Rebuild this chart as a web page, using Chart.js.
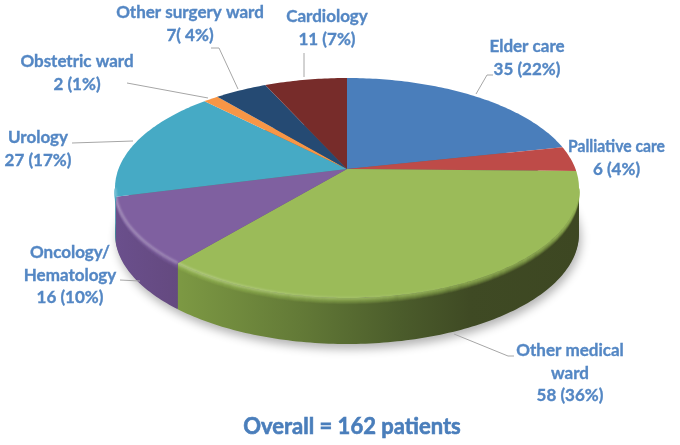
<!DOCTYPE html>
<html>
<head>
<meta charset="utf-8">
<style>
  html, body { margin: 0; padding: 0; background: #fff; }
  #wrap { position: relative; width: 680px; height: 445px; }
  canvas { display: block; }
</style>
<script src="https://cdn.jsdelivr.net/npm/chart.js@4"></script>
</head>
<body>
<div id="wrap"><canvas id="pie"></canvas></div>
<script>
const wards = ['Elder care', 'Palliative care', 'Other medical ward', 'Oncology/Hematology', 'Urology', 'Obstetric ward', 'Other surgery ward', 'Cardiology'];
const patients = [35, 6, 58, 16, 27, 2, 7, 11];
const counts = ['35 (22%)', '6 (4%)', '58 (36%)', '16 (10%)', '27 (17%)', '2 (1%)', '7( 4%)', '11 (7%)'];
const title = 'Overall = 162 patients';

const topColors = ['#4a7ebb', '#be4b48', '#9bbb59', '#7f60a0', '#46aac5', '#f79646', '#254a73', '#772c2a'];

// side of the disc, light end then dark end from left to right
const sideColors = {
    2: [[181, '#7c9843'], [300, '#637a37'], [400, '#4b5c2b'], [470, '#3f4a24'], [579, '#3d4722']],
    3: [[115, '#6a4f8c'], [181, '#64497f']],
    4: [[115, '#3a8fa6'], [120, '#3a8fa6']]
};

// where each caption goes: text lines centred on x, first line middle at y
const captions = [
    { lines: ['Elder care', counts[0]], x: 527, y: 47 },
    { lines: ['Palliative care', counts[1]], x: 616.5, y: 147, fit: 97 },
    { lines: ['Other medical', 'ward', counts[2]], x: 570, y: 351 },
    { lines: ['Oncology/', 'Hematology', counts[3]], x: 70, y: 253 },
    { lines: ['Urology', counts[4]], x: 38, y: 138 },
    { lines: ['Obstetric ward', counts[5]], x: 77, y: 62 },
    { lines: ['Other surgery ward', counts[6]], x: 190, y: 13 },
    { lines: ['Cardiology', counts[7]], x: 327, y: 17 }
];

const leaders = [
    [[476, 94], [487, 75], [493, 75]],
    [[454, 334], [508, 356], [514, 356]],
    [[120, 280], [140, 281]],
    [[72, 143], [133, 141]],
    [[127, 83], [208, 98]],
    [[211, 48], [219, 48], [238, 89]],
    [[304, 53], [304, 77]]
];

// perspective of the disc
const APEX_X = 347, APEX_Y = 169, WIDE = 228.5, DEEP = 106.7, PERSP = 0.1727, THICK = 46;

function project(angle, drop) {
    const c = Math.cos(angle), s = Math.sin(angle);
    const w = 1 - PERSP * s;
    return [APEX_X + WIDE * c / w, APEX_Y + DEEP * s / w + (drop || 0)];
}

function rimTo(ctx, from, to, drop) {
    const steps = Math.max(2, Math.ceil(Math.abs(to - from) * 60));
    for (let i = 0; i <= steps; i++) {
        const p = project(from + (to - from) * i / steps, drop);
        ctx.lineTo(p[0], p[1]);
    }
}

// silhouette of the disc seen from above
const FRONT_FROM = Math.asin(PERSP);
const FRONT_TO = Math.PI - FRONT_FROM;

Chart.ArcElement.prototype.draw = function (ctx) {
    const idx = this.$context.dataIndex;
    const a0 = this.startAngle, a1 = this.endAngle;

    // side wall, only the part facing us
    const from = Math.max(a0, FRONT_FROM), to = Math.min(a1, FRONT_TO);
    if (to > from) {
        const stops = sideColors[idx] || [[0, topColors[idx]], [680, topColors[idx]]];
        const grad = ctx.createLinearGradient(stops[0][0], 0, stops[stops.length - 1][0], 0);
        const span = stops[stops.length - 1][0] - stops[0][0];
        stops.forEach(st => grad.addColorStop((st[0] - stops[0][0]) / span, st[1]));
        ctx.beginPath();
        rimTo(ctx, from, to, 0);
        rimTo(ctx, to, from, THICK);
        ctx.closePath();
        ctx.fillStyle = grad;
        ctx.fill();

        // soft bevel under the rim
        ctx.save();
        ctx.strokeStyle = topColors[idx];
        ctx.lineWidth = 1.5;
        for (let d = 1; d <= 6; d++) {
            ctx.globalAlpha = 0.8 * (1 - d / 7);
            ctx.beginPath();
            rimTo(ctx, from, to, d - 0.5);
            ctx.stroke();
        }
        ctx.restore();
    }

    // top face
    ctx.beginPath();
    ctx.moveTo(APEX_X, APEX_Y);
    rimTo(ctx, a0, a1, 0);
    ctx.closePath();
    ctx.fillStyle = topColors[idx];
    ctx.fill();

    // lighter line at the rim on the near side, fades out to the right
    if (to > from) {
        const shine = ctx.createLinearGradient(115, 0, 470, 0);
        shine.addColorStop(0, 'rgba(255,255,255,0.32)');
        shine.addColorStop(1, 'rgba(255,255,255,0)');
        ctx.save();
        ctx.beginPath();
        rimTo(ctx, from, to, 0);
        ctx.strokeStyle = shine;
        ctx.lineWidth = 2.5;
        ctx.filter = 'blur(1px)';
        ctx.stroke();
        ctx.restore();
    }
};

const discShadow = {
    id: 'discShadow',
    beforeDatasetsDraw(chart) {
        const ctx = chart.ctx;
        ctx.save();
        ctx.shadowColor = 'rgba(0,0,0,0.3)';
        ctx.shadowBlur = 10;
        ctx.shadowOffsetX = 2;
        ctx.shadowOffsetY = 6;
        ctx.fillStyle = '#666';
        ctx.beginPath();
        rimTo(ctx, 0, Math.PI * 2, THICK - 1);
        ctx.closePath();
        ctx.fill();
        ctx.restore();
    }
};

const captionsPlugin = {
    id: 'captions',
    afterDatasetsDraw(chart) {
        const ctx = chart.ctx;
        ctx.save();
        ctx.strokeStyle = '#a6a6a6';
        ctx.lineWidth = 1;
        leaders.forEach(pts => {
            ctx.beginPath();
            pts.forEach((p, i) => i ? ctx.lineTo(p[0], p[1]) : ctx.moveTo(p[0], p[1]));
            ctx.stroke();
        });
        ctx.textAlign = 'center';
        ctx.textBaseline = 'middle';
        ctx.fillStyle = '#5487c4';
        ctx.strokeStyle = '#5487c4';
        ctx.lineWidth = 0.35;
        ctx.font = "bold 17px Lato, sans-serif";
        captions.forEach(c => {
            c.lines.forEach((line, i) => {
                const yy = c.y + i * 22.5;
                if (c.fit && i === 0) {
                    ctx.fillText(line, c.x, yy, c.fit);
                    ctx.strokeText(line, c.x, yy, c.fit);
                } else {
                    ctx.fillText(line, c.x, yy);
                    ctx.strokeText(line, c.x, yy);
                }
            });
        });
        ctx.fillStyle = '#4a7ebb';
        ctx.strokeStyle = '#4a7ebb';
        ctx.lineWidth = 0.6;
        ctx.font = "bold 22px Lato, sans-serif";
        ctx.fillText(title, 352, 427);
        ctx.strokeText(title, 352, 427);
        ctx.restore();
    }
};

new Chart(document.getElementById('pie'), {
    type: 'pie',
    data: {
        labels: wards,
        datasets: [{ data: patients, backgroundColor: topColors, borderWidth: 0 }]
    },
    options: {
        responsive: true,
        maintainAspectRatio: false,
        animation: false,
        plugins: { legend: { display: false }, tooltip: { enabled: false } }
    },
    plugins: [discShadow, captionsPlugin]
});
</script>
</body>
</html>
